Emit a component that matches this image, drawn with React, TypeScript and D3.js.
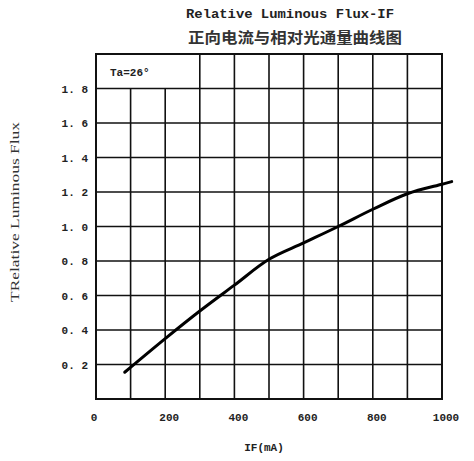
import React, { useEffect, useRef } from 'react';
import * as d3 from 'd3';

// forward current (mA) vs relative luminous flux
const currentMA = [83, 200, 300, 400, 500, 600, 700, 800, 900, 1000, 1028];
const relFlux = [0.155, 0.35, 0.51, 0.66, 0.81, 0.905, 1.0, 1.1, 1.19, 1.245, 1.26];

const xTicks = [0, 200, 400, 600, 800, 1000];
const yTicks = [0.2, 0.4, 0.6, 0.8, 1.0, 1.2, 1.4, 1.6, 1.8];
const xGrid = [100, 200, 300, 400, 500, 600, 700, 800, 900];
const yGrid = [0.2, 0.4, 0.6, 0.8, 1.0, 1.2, 1.4, 1.6, 1.8];

const W = 474;
const H = 461;
const mono = '"Liberation Mono", "DejaVu Sans Mono", monospace';

const App: React.FC = () => {
  const svgRef = useRef<SVGSVGElement>(null);

  useEffect(() => {
    document.body.style.margin = '0';
    if (!svgRef.current) return;
    const svg = d3.select(svgRef.current);
    svg.selectAll('*').remove();

    const x = d3.scaleLinear().domain([0, 1000]).range([96, 442]);
    const y = d3.scaleLinear().domain([0, 2.0]).range([399, 54]);

    const grid = svg.append('g').attr('stroke', '#111').attr('stroke-width', 1.6);

    // horizontal grid lines
    grid.selectAll('.h')
      .data(yGrid)
      .enter()
      .append('line')
      .attr('x1', x(0))
      .attr('x2', x(1000))
      .attr('y1', d => y(d))
      .attr('y2', d => y(d));

    // vertical grid lines; the first two stop below the Ta label box
    grid.selectAll('.v')
      .data(xGrid)
      .enter()
      .append('line')
      .attr('x1', d => x(d))
      .attr('x2', d => x(d))
      .attr('y1', y(0))
      .attr('y2', d => (d < 300 ? y(1.8) : y(2.0)));

    grid.append('rect')
      .attr('x', x(0))
      .attr('y', y(2.0))
      .attr('width', x(1000) - x(0))
      .attr('height', y(0) - y(2.0))
      .attr('fill', 'none')
      .attr('stroke-width', 2);

    const line = d3.line<number>()
      .x((_, i) => x(currentMA[i]))
      .y(d => y(d))
      .curve(d3.curveCatmullRom.alpha(0.5));

    svg.append('path')
      .datum(relFlux)
      .attr('d', line)
      .attr('fill', 'none')
      .attr('stroke', '#000')
      .attr('stroke-width', 3)
      .attr('stroke-linecap', 'round');

    // tick labels
    svg.selectAll('.yt')
      .data(yTicks)
      .enter()
      .append('text')
      .attr('x', 88)
      .attr('y', d => y(d) + 4)
      .attr('text-anchor', 'end')
      .attr('font-family', mono)
      .attr('font-weight', 'bold')
      .attr('font-size', 11)
      .attr('fill', '#222')
      .text(d => d.toFixed(1).replace('.', '. '));

    svg.selectAll('.xt')
      .data(xTicks)
      .enter()
      .append('text')
      .attr('x', d => x(d) + (d === 0 ? -2 : 4))
      .attr('y', 421)
      .attr('text-anchor', 'middle')
      .attr('font-family', mono)
      .attr('font-weight', 'bold')
      .attr('font-size', 11)
      .attr('fill', '#222')
      .text(d => String(d));

    svg.append('text')
      .attr('x', 110)
      .attr('y', 76)
      .attr('font-family', mono)
      .attr('font-weight', 'bold')
      .attr('font-size', 11)
      .attr('fill', '#222')
      .text('Ta=26°');

    // titles
    svg.append('text')
      .attr('x', 186)
      .attr('y', 18)
      .attr('textLength', 208)
      .attr('lengthAdjust', 'spacingAndGlyphs')
      .attr('font-family', mono)
      .attr('font-weight', 'bold')
      .attr('font-size', 13)
      .attr('fill', '#222')
      .text('Relative Luminous Flux-IF');

    svg.append('text')
      .attr('x', 188)
      .attr('y', 43)
      .attr('textLength', 214)
      .attr('lengthAdjust', 'spacingAndGlyphs')
      .attr('font-family', '"Noto Sans CJK SC", sans-serif')
      .attr('font-weight', 'bold')
      .attr('font-size', 15)
      .attr('fill', '#333')
      .text('正向电流与相对光通量曲线图');

    svg.append('text')
      .attr('x', 264)
      .attr('y', 451)
      .attr('text-anchor', 'middle')
      .attr('font-family', mono)
      .attr('font-weight', 'bold')
      .attr('font-size', 11)
      .attr('fill', '#222')
      .text('IF(mA)');

    svg.append('text')
      .attr('transform', `translate(19,212) rotate(-90)`)
      .attr('text-anchor', 'middle')
      .attr('textLength', 180)
      .attr('lengthAdjust', 'spacingAndGlyphs')
      .attr('font-family', '"Liberation Serif", serif')
      .attr('font-size', 12)
      .attr('fill', '#333')
      .text('TRelative Luminous Flux');
  }, []);

  return <svg ref={svgRef} width={W} height={H} style={{ display: 'block', background: '#fff' }} />;
};

export default App;
